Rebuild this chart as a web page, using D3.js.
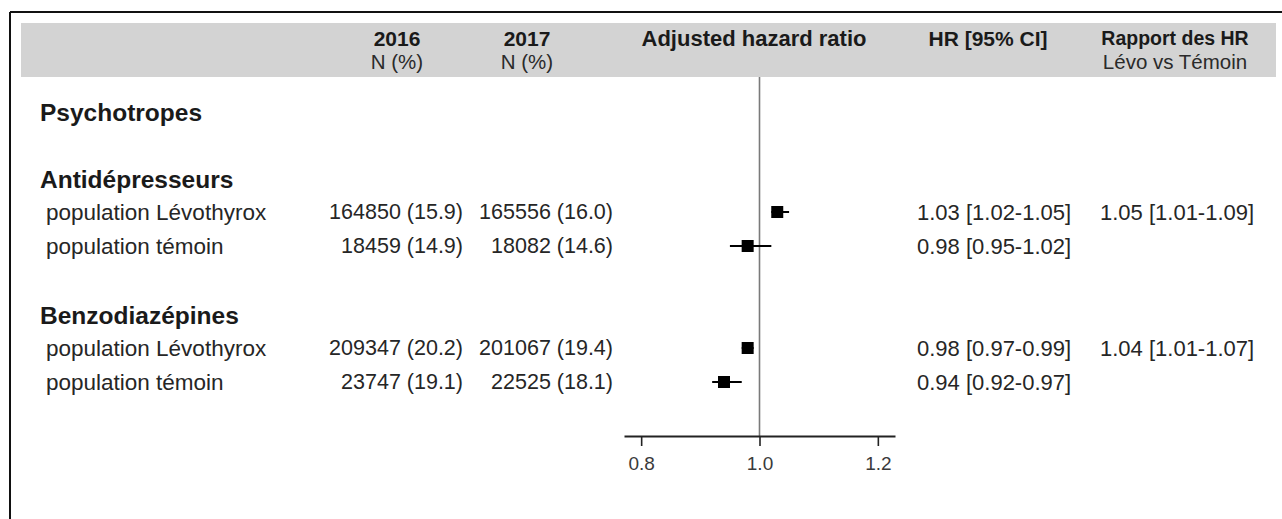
<!DOCTYPE html>
<html>
<head>
<meta charset="utf-8">
<script src="https://cdn.jsdelivr.net/npm/d3@7"></script>
<style>
html,body{margin:0;padding:0;background:#fff;}
svg{display:block;}
text{font-family:"Liberation Sans",Arial,sans-serif;}
</style>
</head>
<body>
<svg id="chart" width="1282" height="519"></svg>
<script>
// ---- data ----
const sectionTitle = "Psychotropes";
const groups = ["Antidépresseurs", "Benzodiazépines"];
const populations = ["population Lévothyrox", "population témoin"];
const n2016 = ["164850 (15.9)", "18459 (14.9)", "209347 (20.2)", "23747 (19.1)"];
const n2017 = ["165556 (16.0)", "18082 (14.6)", "201067 (19.4)", "22525 (18.1)"];
const hr     = [1.03, 0.98, 0.98, 0.94];
const ciLow  = [1.02, 0.95, 0.97, 0.92];
const ciHigh = [1.05, 1.02, 0.99, 0.97];
const ratioHR = ["1.05 [1.01-1.09]", "1.04 [1.01-1.07]"];
const tickValues = [0.8, 1.0, 1.2];
const tickLabels = ["0.8", "1.0", "1.2"];
const headers = [
  {main: "2016", sub: "N (%)"},
  {main: "2017", sub: "N (%)"},
  {main: "Adjusted hazard ratio", sub: ""},
  {main: "HR [95% CI]", sub: ""},
  {main: "Rapport des HR", sub: "Lévo vs Témoin"}
];

// ---- layout ----
const svg = d3.select("#chart");
const W = 1282, H = 519;
const ink = "#1a1a1a";
const txt = "#262626";

// outer frame (top + left)
svg.append("line").attr("x1", 10).attr("x2", W).attr("y1", 12).attr("y2", 12)
  .attr("stroke", "#111").attr("stroke-width", 2);
svg.append("line").attr("x1", 10).attr("x2", 10).attr("y1", 12).attr("y2", H)
  .attr("stroke", "#111").attr("stroke-width", 2);

// header band
const bandTop = 23, bandBottom = 77;
svg.append("rect").attr("x", 21).attr("y", bandTop).attr("width", 1276 - 21)
  .attr("height", bandBottom - bandTop).attr("fill", "#d3d3d3");

// x scale for the forest plot
const x = d3.scaleLinear().domain([0.771, 1.229]).range([624, 895]);

// header text
const headerX = [397, 527, 754, 988, 1175];
const headerMainSize = [21, 21, 22, 21, 19.5];
headers.forEach((h, i) => {
  svg.append("text").attr("x", headerX[i]).attr("y", 38)
    .attr("text-anchor", "middle").attr("dominant-baseline", "central")
    .attr("font-weight", "bold").attr("font-size", headerMainSize[i])
    .attr("fill", ink).text(h.main);
  if (h.sub) {
    svg.append("text").attr("x", headerX[i]).attr("y", 61)
      .attr("text-anchor", "middle").attr("dominant-baseline", "central")
      .attr("font-size", 20.5).attr("fill", "#2a2a2a").text(h.sub);
  }
});

// rows
const sectionY = 112;
const groupY = [179, 315];
const rowY = [212, 246, 348, 382];

svg.append("text").attr("x", 40).attr("y", sectionY).attr("dominant-baseline", "central")
  .attr("font-weight", "bold").attr("font-size", 24.5).attr("fill", ink).text(sectionTitle);

groups.forEach((g, i) => {
  svg.append("text").attr("x", 40).attr("y", groupY[i]).attr("dominant-baseline", "central")
    .attr("font-weight", "bold").attr("font-size", 24.5).attr("fill", ink).text(g);
});

// reference line at 1.0
const axisY = 436;
svg.append("line").attr("x1", x(1)).attr("x2", x(1)).attr("y1", bandBottom).attr("y2", axisY)
  .attr("stroke", "#7a7a7a").attr("stroke-width", 1.6);

hr.forEach((v, i) => {
  const y = rowY[i];
  svg.append("text").attr("x", 46).attr("y", y).attr("dominant-baseline", "central")
    .attr("font-size", 22.5).attr("fill", txt).text(populations[i % 2]);
  svg.append("text").attr("x", 463).attr("y", y).attr("text-anchor", "end")
    .attr("dominant-baseline", "central").attr("font-size", 21.5).attr("fill", txt).text(n2016[i]);
  svg.append("text").attr("x", 613).attr("y", y).attr("text-anchor", "end")
    .attr("dominant-baseline", "central").attr("font-size", 21.5).attr("fill", txt).text(n2017[i]);
  // CI line
  svg.append("line").attr("x1", x(ciLow[i])).attr("x2", x(ciHigh[i]))
    .attr("y1", y).attr("y2", y).attr("stroke", "#000").attr("stroke-width", 2);
  // square
  const s = 12;
  svg.append("rect").attr("x", x(v) - s / 2).attr("y", y - s / 2)
    .attr("width", s).attr("height", s).attr("fill", "#000");
  // HR text
  svg.append("text").attr("x", 917).attr("y", y).attr("dominant-baseline", "central")
    .attr("font-size", 22).attr("fill", txt)
    .text(`${v.toFixed(2)} [${ciLow[i].toFixed(2)}-${ciHigh[i].toFixed(2)}]`);
  if (i % 2 === 0) {
    svg.append("text").attr("x", 1100).attr("y", y).attr("dominant-baseline", "central")
      .attr("font-size", 22).attr("fill", txt).text(ratioHR[i / 2]);
  }
});

// axis
const axis = d3.axisBottom(x).tickValues(tickValues)
  .tickFormat((d, i) => tickLabels[i]).tickSizeOuter(0).tickSizeInner(10).tickPadding(11);
const gAxis = svg.append("g").attr("transform", `translate(0,${axisY})`).call(axis);
gAxis.select(".domain").attr("stroke", "#222").attr("stroke-width", 2);
gAxis.selectAll(".tick line").attr("stroke", "#222").attr("stroke-width", 1.6);
gAxis.selectAll(".tick text").attr("font-size", 19).attr("fill", "#3a3a3a")
  .attr("font-family", "Liberation Sans, Arial, sans-serif");
</script>
</body>
</html>
